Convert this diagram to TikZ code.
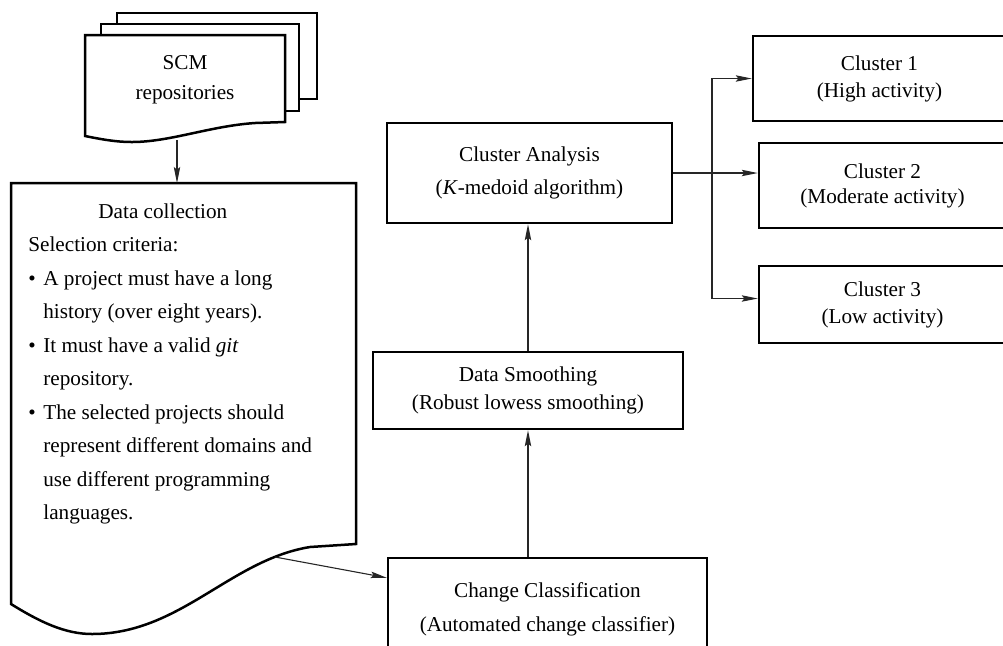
\documentclass[tikz,border=0pt]{standalone}
\usepackage{fontspec}
\setmainfont{Liberation Serif}
\usetikzlibrary{arrows.meta}

\begin{document}
\begin{tikzpicture}[x=0.5pt,y=-0.5pt,
  box/.style={draw,line width=1.25pt,align=center,inner sep=0pt,font=\fontsize{10.6}{13.5}\selectfont},
  page/.style={draw,line width=1.25pt,line join=miter},
  arr/.style={draw=black!85,line width=0.55pt,-{Stealth[length=8pt,width=3.2pt,inset=1.3pt]}}]
\useasboundingbox (0,0) rectangle (1003,645);
\draw[page] (117,24) -- (117,13) -- (317,13) -- (317,99) -- (299,99);
\draw[page] (101,35) -- (101,24) -- (299,24) -- (299,111) -- (285,111);
\draw[page] (85,136) -- (85,35) -- (285,35) -- (285,122) -- (255,123) .. controls (210,126) and (170,142) .. (132,142) .. controls (115,142) and (100,139) .. (85,136) -- cycle;
\node[inner sep=0pt,align=center,font=\fontsize{10.6}{15}\selectfont] (scm) at (185,80) {SCM\\repositories};
\coordinate (scmb) at (177,140);
\draw[page] (11,183) -- (356,183) -- (356,544) -- (310,547) .. controls (230,560) and (180,634) .. (92,634) .. controls (65,634) and (40,622) .. (11,604) -- cycle;
\coordinate (dctop) at (177,183);
\coordinate (wave) at (275,557);
\node[anchor=north west,align=left,inner sep=0pt,font=\fontsize{10.6}{16.75}\selectfont] (dc) at (28,203)
  {\hspace*{35pt}Data collection\\
   Selection criteria:\\
   \makebox[7.5pt][l]{\textbullet}A project must have a long\\
   \hspace*{7.5pt}history (over eight years).\\
   \makebox[7.5pt][l]{\textbullet}It must have a valid \textit{git}\\
   \hspace*{7.5pt}repository.\\
   \makebox[7.5pt][l]{\textbullet}The selected projects should\\
   \hspace*{7.5pt}represent different domains and\\
   \hspace*{7.5pt}use different programming\\
   \hspace*{7.5pt}languages.};
\node[box,minimum width=142.5pt,minimum height=50pt] (ca) at (529.5,173) {Cluster Analysis\\[3pt](\textit{K}-medoid algorithm)};
\node[box,minimum width=155pt,minimum height=38.5pt] (ds) at (528,390.5) {Data Smoothing\\[0.5pt](Robust lowess smoothing)};
\node[box,minimum width=159.5pt,minimum height=51pt] (cc) at (547.5,609) {Change Classification\\[3.5pt](Automated change classifier)};
\node[box,minimum width=126.5pt,minimum height=42.5pt] (c1) at (879.5,78.5) {Cluster 1\\(High activity)};
\node[box,minimum width=123.5pt,minimum height=42.5pt] (c2) at (882.5,185.5) {Cluster 2\\[-1pt](Moderate activity)};
\node[box,minimum width=123.5pt,minimum height=38.5pt] (c3) at (882.5,304.5) {Cluster 3\\(Low activity)};
\coordinate (split) at (712,173);
\draw[arr] (scmb) -- (dctop);
\draw[arr] (wave) -- ([yshift=-10.5pt]cc.north west);
\draw[arr] (ds.south |- cc.north) -- (ds.south);
\draw[arr] (ds.north) -- (ds.north |- ca.south);
\draw[arr] (ca.east) -- (ca.east -| c2.west);
\draw[arr] (split) |- (c1.west);
\draw[arr] (split) |- ([yshift=3pt]c3.west);
\end{tikzpicture}
\end{document}
